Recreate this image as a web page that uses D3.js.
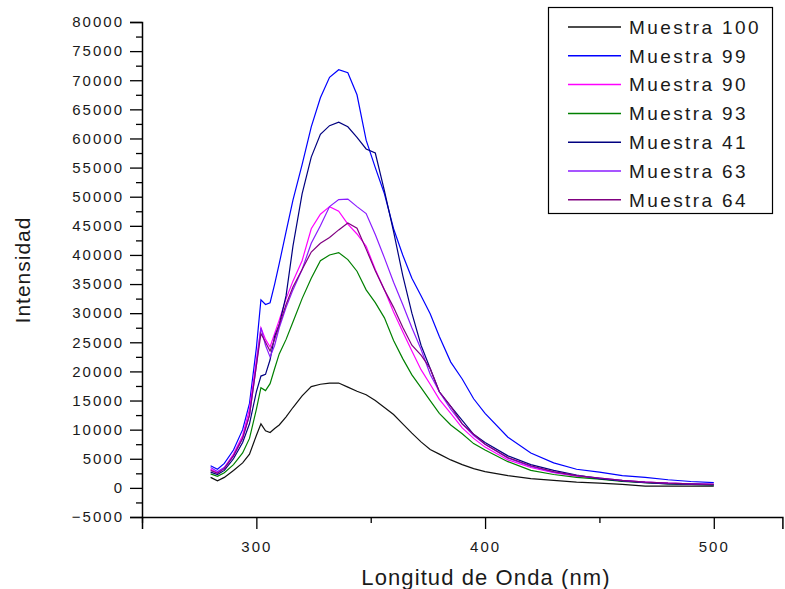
<!DOCTYPE html>
<html><head><meta charset="utf-8">
<script src="https://cdn.jsdelivr.net/npm/d3@7/dist/d3.min.js"></script>
<style>
body{margin:0;background:#fff}
svg{display:block}
text{font-family:"Liberation Sans",Arial,sans-serif;fill:#1a1a1a}
</style>
</head><body>
<svg id="chart" width="785" height="589"></svg>
<script>
const wavelength = [280,283,286,290,294,297,300,302,304,306,308,310,313,316,320,324,328,332,336,340,344,348,352,356,360,364,368,372,376,380,385,390,395,400,410,420,430,440,450,460,470,480,490,500];

const muestra100 = [1800,1200,1800,3000,4300,5800,9000,11000,9800,9500,10200,10800,12200,13800,15800,17400,17800,18000,18000,17300,16600,16000,15000,13800,12600,11000,9400,7900,6600,5800,4800,4000,3300,2800,2100,1600,1300,1000,800,600,300,300,300,300];
const muestra99 = [3800,3200,4200,6500,10000,14500,24000,32300,31500,31800,35000,38500,44000,49400,55500,62000,67000,70500,71800,71300,67500,59700,55000,50500,44500,40000,36000,33000,29900,26000,21600,18700,15300,12800,8700,6000,4300,3200,2700,2100,1800,1400,1100,900];
const muestra90 = [3200,2600,3500,5800,9000,13500,22000,27500,25500,24200,26500,28800,32500,35500,39000,44500,47000,48300,47500,45300,43600,41500,37500,34000,30200,26800,23500,20300,17800,15200,12800,10300,8500,7000,4800,3500,2600,2000,1600,1200,1000,800,700,600];
const muestra93 = [2400,2000,2600,4000,6000,8500,13500,17200,16700,17900,20500,23000,25500,28500,32500,36000,39000,40000,40400,39200,37200,34000,31800,29200,25300,22200,19400,17200,15000,12800,10800,9300,7600,6500,4500,3000,2300,1800,1500,1100,900,700,600,500];
const muestra41 = [2700,2300,3000,5000,7800,11000,16500,19200,19500,22000,26000,28000,33000,41500,50500,56800,60700,62200,62800,62000,60200,58200,57500,51000,44000,36500,30000,24500,20500,16500,14000,11600,9200,7800,5500,4000,3000,2200,1600,1200,900,700,600,500];
const muestra63 = [3500,2800,3500,5500,8500,12500,21000,27500,24500,22500,24500,27500,31000,34000,37500,42000,45000,48300,49500,49600,48300,47100,43500,39500,35300,31500,27500,23800,19500,16500,13500,11000,9000,7500,5100,3700,2700,2100,1700,1300,1000,800,700,600];
const muestra64 = [3000,2500,3300,5500,8500,12500,21000,26500,25000,23500,25500,28000,31500,34500,37500,40500,42000,43000,44300,45500,44600,41000,37300,34000,31000,27600,24500,22800,20500,16500,14000,11000,9200,7500,5200,3800,2800,2100,1700,1300,1000,800,700,600];

const seriesNames = ["Muestra 100","Muestra 99","Muestra 90","Muestra 93","Muestra 41","Muestra 63","Muestra 64"];
const seriesValues = [muestra100, muestra99, muestra90, muestra93, muestra41, muestra63, muestra64];
const seriesColors = ["#111111","#0000ff","#ff00ff","#008000","#000080","#8a1cff","#800080"];

const yMajorTicks = d3.range(-5000, 80001, 5000);
const yMinorTicks = d3.range(-2500, 80000, 5000);
const xMajorTicks = [300, 400, 500];
const xMinorTicks = [250, 350, 450];

const xTitle = "Longitud de Onda (nm)";
const yTitle = "Intensidad";

const svg = d3.select("#chart");
const x = d3.scaleLinear().domain([250, 530]).range([142, 782.4]);
const y = d3.scaleLinear().domain([-5000, 80000]).range([517, 22]);

// Y axis
const gy = svg.append("g").attr("transform", "translate(142,0)");
gy.call(d3.axisLeft(y).tickValues(yMajorTicks).tickSize(12).tickPadding(6).tickFormat(d3.format("d")));
gy.append("g").call(d3.axisLeft(y).tickValues(yMinorTicks).tickSize(6).tickFormat(""));
gy.selectAll("path.domain").attr("stroke", "#000").attr("stroke-width", 1.5);
gy.selectAll(".tick line").attr("stroke", "#000").attr("stroke-width", 1.3);
gy.selectAll(".tick text").style("font-size", "15px").style("letter-spacing", "2px")
  .style("font-family", '"Liberation Sans",Arial,sans-serif').attr("fill", "#1a1a1a");
gy.selectAll("g > g path.domain").remove();

// X axis
const gx = svg.append("g").attr("transform", "translate(0,517)");
gx.call(d3.axisBottom(x).tickValues(xMajorTicks).tickSize(12).tickPadding(12).tickFormat(d3.format("d")));
gx.append("g").call(d3.axisBottom(x).tickValues(xMinorTicks).tickSize(6).tickFormat(""));
gx.selectAll("path.domain").attr("stroke", "#000").attr("stroke-width", 1.5);
gx.selectAll(".tick line").attr("stroke", "#000").attr("stroke-width", 1.3);
gx.selectAll(".tick text").style("font-size", "15px").style("letter-spacing", "2px")
  .style("font-family", '"Liberation Sans",Arial,sans-serif').attr("fill", "#1a1a1a");
gx.selectAll("g > g path.domain").remove();

// Titles
svg.append("text").attr("x", 486).attr("y", 585).attr("text-anchor", "middle")
  .style("font-size", "22px").style("letter-spacing", "1.1px").text(xTitle);
svg.append("text").attr("transform", "translate(30,270) rotate(-90)").attr("text-anchor", "middle")
  .style("font-size", "21px").style("letter-spacing", "1px").text(yTitle);

// Lines
const line = d3.line().x((d, i) => x(wavelength[i])).y(d => y(d));
seriesValues.forEach((vals, k) => {
  svg.append("path").datum(vals).attr("d", line).attr("fill", "none")
    .attr("stroke", seriesColors[k]).attr("stroke-width", 1.2);
});

// Legend
const lg = svg.append("g");
lg.append("rect").attr("x", 548.5).attr("y", 7.5).attr("width", 224).attr("height", 206)
  .attr("fill", "#fff").attr("stroke", "#000").attr("stroke-width", 1.2);
seriesNames.forEach((name, k) => {
  const yy = 27 + k * 28.8;
  lg.append("line").attr("x1", 568).attr("x2", 621).attr("y1", yy).attr("y2", yy)
    .attr("stroke", seriesColors[k]).attr("stroke-width", 1.5);
  lg.append("text").attr("x", 629).attr("y", yy).attr("dy", "0.36em")
    .style("font-size", "19px").style("letter-spacing", "2.4px").text(name);
});
</script>
</body></html>
